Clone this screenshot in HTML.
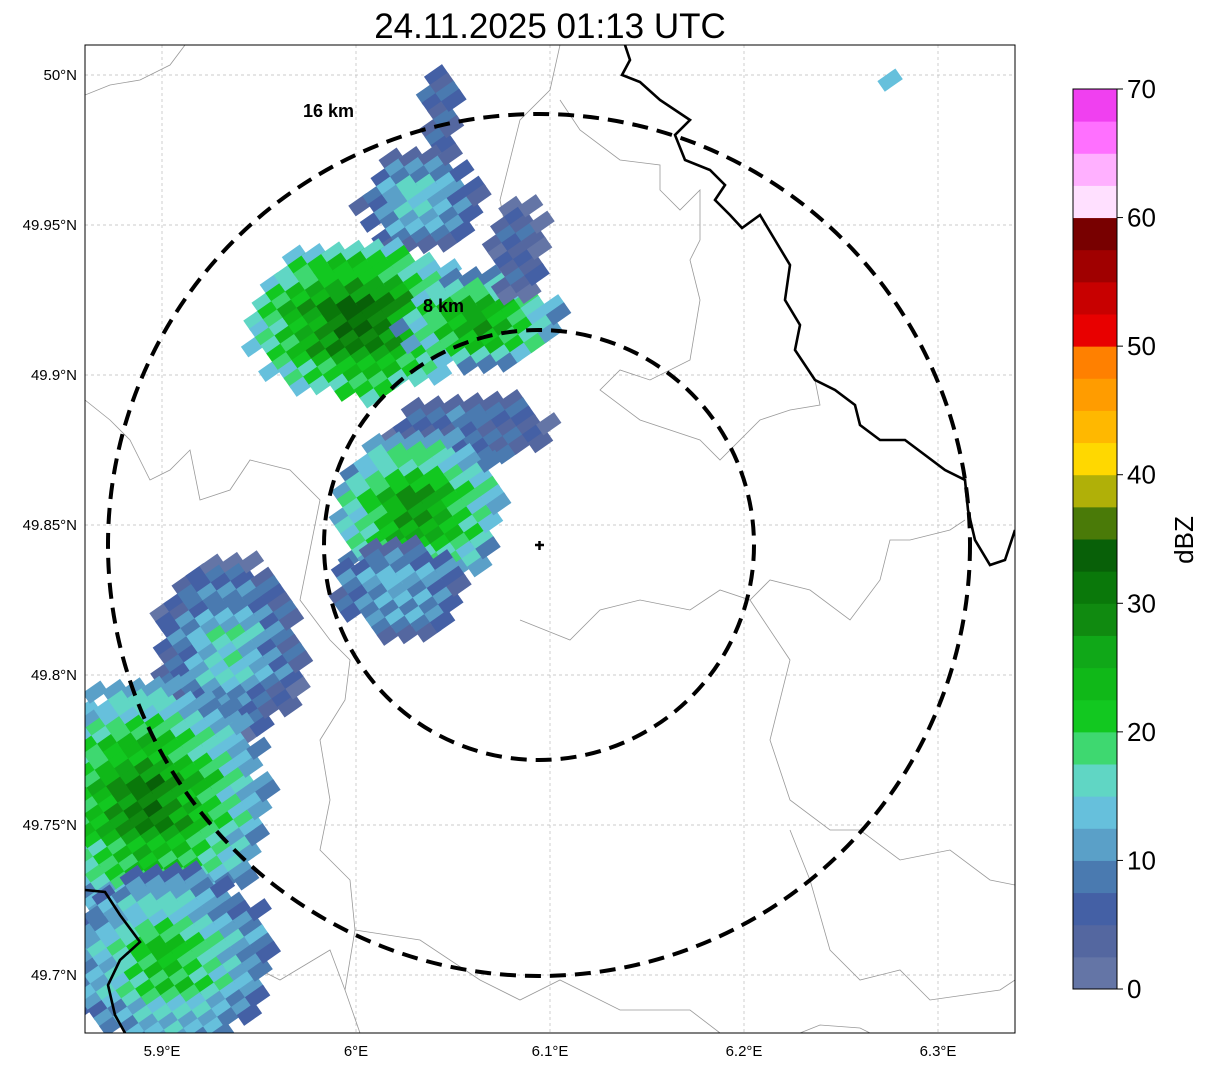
<!DOCTYPE html>
<html><head><meta charset="utf-8"><style>
body{margin:0;background:#fff;font-family:"Liberation Sans","DejaVu Sans",sans-serif}
</style></head><body>
<svg id="s" width="1207" height="1069" xmlns="http://www.w3.org/2000/svg" font-family="Liberation Sans, DejaVu Sans, sans-serif">
<defs><clipPath id="pc"><rect x="85" y="45" width="930" height="988"/></clipPath></defs>
<text x="550" y="38" font-size="35" text-anchor="middle">24.11.2025 01:13 UTC</text>
<rect x="85" y="45" width="930" height="988" fill="#fff"/>
<g id="grid"></g>
<g id="borders" clip-path="url(#pc)" fill="none" stroke="#999" stroke-width="0.8">
<polyline points="85,95 110,85 140,80 170,65 185,45"/>
<polyline points="85,400 110,420 130,440 150,480 170,470 190,450 200,500 230,490 250,460 290,470 320,500 310,550 300,600 330,640 350,660 345,700 320,740 330,800 320,850 350,880 355,930 345,990 360,1033"/>
<polyline points="560,45 550,90 520,120 500,200 510,250 500,310 495,360"/>
<polyline points="560,100 580,130 620,160 660,165 660,190 680,210 700,190 700,240 690,260 700,300 690,360 650,380 620,370 600,390 640,420 700,440 720,460 760,420 790,410 820,405 815,380"/>
<polyline points="520,620 570,640 600,610 640,600 690,610 720,590 750,600 770,580 810,590 850,620 880,580 890,540 910,540 950,530 965,520"/>
<polyline points="750,600 790,660 770,740 790,800 830,830 860,830 900,860 950,850 990,880 1015,885"/>
<polyline points="790,830 810,880 830,950 860,980 900,970 930,1000 1000,990 1015,980"/>
<polyline points="355,930 420,940 480,980 520,1000 560,980 620,1010 690,1010 720,1033"/>
<polyline points="800,1033 820,1025 860,1028 870,1033"/>
<polyline points="200,1000 240,960 280,980 330,950 345,990"/>
</g>
<g id="echo" clip-path="url(#pc)"></g>
<g clip-path="url(#pc)" fill="none" stroke="#000">
<polyline stroke-width="2.6" points="625,45 630,60 622,75 640,82 660,100 690,120 675,135 685,160 710,170 725,185 715,200 730,215 742,228 760,215 775,240 790,265 785,300 800,325 795,350 815,380 835,390 855,405 860,425 880,440 905,440 925,455 945,470 965,480 968,510 975,540 990,565 1005,560 1015,530"/>
<polyline stroke-width="2.6" points="85,890 105,892 120,915 140,942 120,960 108,985 115,1015 125,1033"/>
</g>
<g id="rings" fill="none" stroke="#000" stroke-width="4" stroke-dasharray="16,9">
<ellipse cx="539" cy="545" rx="431" ry="431"/>
<ellipse cx="539" cy="545" rx="215" ry="215"/>
</g>
<text x="303" y="117" font-size="18" font-weight="bold">16 km</text>
<text x="423" y="312" font-size="18" font-weight="bold">8 km</text>
<g stroke="#000" stroke-width="2.5"><line x1="535" y1="545" x2="544" y2="545"/><line x1="539.5" y1="541" x2="539.5" y2="550"/></g>
<rect x="85" y="45" width="930" height="988" fill="none" stroke="#000" stroke-width="1"/>
<g id="ticks" font-size="15"></g>
<g id="cbar"></g>
<text transform="translate(1193,540) rotate(-90)" font-size="26" text-anchor="middle">dBZ</text>
</svg>
<script>
const lonTicks=[5.9,6.0,6.1,6.2,6.3];
const lonLabels=["5.9°E","6°E","6.1°E","6.2°E","6.3°E"];
const latTicks=[50.0,49.95,49.9,49.85,49.8,49.75,49.7];
const latLabels=["50°N","49.95°N","49.9°N","49.85°N","49.8°N","49.75°N","49.7°N"];
const cbColors=["#6475a6","#5467a0","#4460a5","#4a7ab0","#5aa0c8","#66c0dc","#60d6c4","#3ed870","#12c820","#10b818","#10a818","#108a10","#0a780a","#086008","#4a7a08","#b0b008","#ffd800","#ffb800","#ff9c00","#ff8000","#e80000","#c80000","#a00000","#780000","#ffe0ff","#ffb0ff","#ff70ff","#f040f0"];
const cbTicks=[0,10,20,30,40,50,60,70];
// echo blobs: centre lon, lat, core dBZ, edge dBZ
const blobLon=[6.0433,6.033,6.0021,6.0639,6.0845,6.0588,6.033,6.0227,5.9351,5.8938,5.9041,6.2753];
const blobLat=[49.9883,49.9583,49.9183,49.9183,49.9417,49.8817,49.855,49.8283,49.8083,49.7583,49.705,49.9983];
const blobCore=[8,17,35,30,6,9,30,15,18,33,25,17];
const blobEdge=[5,7,16,13,4,5,13,7,5,12,9,17];
const blobRx=[14,55,105,75,25,75,80,60,70,110,95,4];
const blobRy=[42,48,75,42,45,32,72,42,85,115,85,10];
(function(){
const X=lon=>162+(lon-5.9)*1940, Y=lat=>75+(50-lat)*3000;
const NS="http://www.w3.org/2000/svg";
function mk(t,a,p){const e=document.createElementNS(NS,t);for(const k in a)e.setAttribute(k,a[k]);p.appendChild(e);return e;}
const grid=document.getElementById('grid'),ticks=document.getElementById('ticks');
lonTicks.forEach((v,i)=>{const x=X(v);
 const g=mk('line',{x1:x,x2:x,y1:45,y2:1033,stroke:'#bbb','stroke-width':0.7,'stroke-dasharray':'3,3'},grid);
 
 
 const t=mk('text',{x:x,y:1056,'text-anchor':'middle'},ticks);t.textContent=lonLabels[i];
 
 });
latTicks.forEach((v,i)=>{const y=Y(v);
 const g=mk('line',{x1:85,x2:1015,y1:y,y2:y,stroke:'#bbb','stroke-width':0.7,'stroke-dasharray':'3,3'},grid);
 
 
 const t=mk('text',{x:77,y:y+5,'text-anchor':'end'},ticks);t.textContent=latLabels[i];
 
 });
const col=v=>cbColors[Math.max(0,Math.min(27,Math.floor(v/2.5)))];
const echo=document.getElementById('echo');
const ang=-35*Math.PI/180, ca=Math.cos(ang), sa=Math.sin(ang);
blobLon.forEach((lon,b)=>{const cx=X(lon),cy=Y(blobLat[b]);const rx=blobRx[b],ry=blobRy[b];
 const n=Math.ceil(Math.max(rx,ry)*1.6/10);
 for(let i=-n;i<=n;i++)for(let j=-n;j<=n;j++){
  const u=i*17,w=j*10;const px=cx+u*ca-w*sa,py=cy+u*sa+w*ca;
  const d=Math.hypot((px-cx)/rx,(py-cy)/ry);const jit=((i*7+j*13)%5+5)%5;
  if(d>1.12-0.04*jit)continue;
  const v=blobEdge[b]+(blobCore[b]-blobEdge[b])*Math.max(0,1-d)+(jit-2)*1.6;
  const r=mk('rect',{x:-11,y:-6.5,width:22,height:13,fill:col(v),transform:`translate(${px.toFixed(1)},${py.toFixed(1)}) rotate(-35)`},echo);
  
  
 }});
const cb=document.getElementById('cbar');const cbTop=89,cbH=900,cx0=1073,cw=44;
cbColors.forEach((c,i)=>{const y0=cbTop+cbH-(i+1)*cbH/28;
 const r=mk('rect',{x:cx0,y:y0,width:cw,height:cbH/28+0.5,fill:c},cb);
 
 });
mk('rect',{x:cx0,y:cbTop,width:cw,height:cbH,fill:'none',stroke:'#000','stroke-width':1},cb);
cbTicks.forEach(v=>{const y=cbTop+cbH-v/70*cbH;
 mk('line',{x1:cx0+cw,x2:cx0+cw+6,y1:y,y2:y,stroke:'#000'},cb);
 const t=mk('text',{x:cx0+cw+10,y:y+9,'font-size':26},cb);t.textContent=v;
 
 });
})();
</script>
</body></html>
